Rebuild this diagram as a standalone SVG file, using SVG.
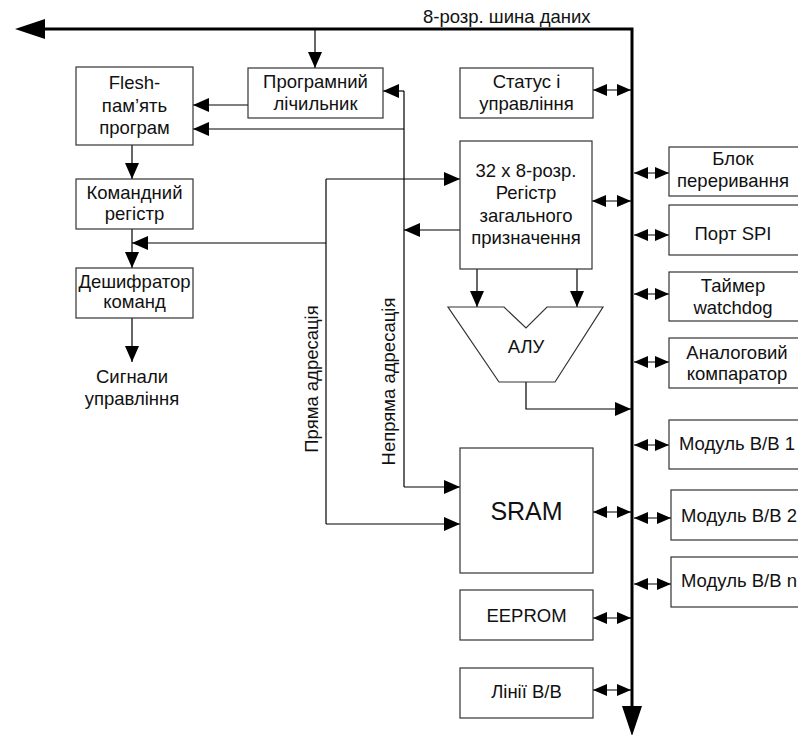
<svg xmlns="http://www.w3.org/2000/svg" width="798" height="735" viewBox="0 0 798 735">
<defs>
<style>
.box{fill:#fff;stroke:#333;stroke-width:1.2}
.t{font-family:"Liberation Sans",Arial,sans-serif;font-size:18.5px;fill:#111;text-anchor:middle}
.tl{font-family:"Liberation Sans",Arial,sans-serif;font-size:18.5px;fill:#111}
.c{fill:none;stroke:#000;stroke-width:1.2}
.a{marker-end:url(#arr)}
.d{marker-start:url(#dbl);marker-end:url(#dbl)}
.bus{fill:none;stroke:#000;stroke-width:3;marker-start:url(#big);marker-end:url(#big)}
</style>
<marker id="arr" viewBox="0 0 16 14" refX="16" refY="7" markerWidth="16" markerHeight="14" markerUnits="userSpaceOnUse" orient="auto"><path d="M0,0 L16,7 L0,14 z" fill="#000"/></marker>
<marker id="dbl" viewBox="0 0 14 12" refX="14" refY="6" markerWidth="14" markerHeight="12" markerUnits="userSpaceOnUse" orient="auto-start-reverse"><path d="M0,0 L14,6 L0,12 z" fill="#000"/></marker>
<marker id="big" viewBox="0 0 30 20" refX="1" refY="10" markerWidth="30" markerHeight="20" markerUnits="userSpaceOnUse" orient="auto-start-reverse"><path d="M0,0 L30,10 L0,20 z" fill="#000"/></marker>
</defs>

<g id="connectors">
<path class="bus" d="M44 29 H632 V707"/>
<path class="c a" d="M315 29 V68"/>
<path class="c a" d="M248 105 H193"/>
<path class="c" d="M404 91 V487"/>
<path class="c a" d="M404 91 H383"/>
<path class="c a" d="M404 129 H193"/>
<path class="c a" d="M404 487 H460"/>
<path class="c a" d="M460 230 H404"/>
<path class="c a" d="M132 145 V179"/>
<path class="c a" d="M132 229 V268"/>
<path class="c" d="M326 179 V524"/>
<path class="c a" d="M326 179 H460"/>
<path class="c a" d="M326 243 H132"/>
<path class="c a" d="M326 524 H460"/>
<path class="c a" d="M132 318 V362"/>
<path class="c a" d="M477 269 V307"/>
<path class="c a" d="M577 269 V307"/>
<path class="c a" d="M526 382 V409 H631"/>
<path class="c d" d="M593 90 H631"/>
<path class="c d" d="M592 201 H631"/>
<path class="c d" d="M593 512 H631"/>
<path class="c d" d="M593 618 H631"/>
<path class="c d" d="M593 690 H631"/>
<path class="c d" d="M634 173 H669"/>
<path class="c d" d="M634 235 H669"/>
<path class="c d" d="M634 294 H669"/>
<path class="c d" d="M634 362 H669"/>
<path class="c d" d="M634 445 H669"/>
<path class="c d" d="M634 518 H671"/>
<path class="c d" d="M634 584 H671"/>
</g>

<text class="tl" x="423" y="23">8-розр. шина даних</text>

<g id="flesh">
<rect class="box" x="76" y="67" width="117" height="78"/>
<text class="t" x="134.5" y="89">Flesh-</text>
<text class="t" x="134.5" y="112">пам’ять</text>
<text class="t" x="134.5" y="134">програм</text>
</g>
<g id="pc">
<rect class="box" x="248" y="68" width="135" height="50"/>
<text class="t" x="315.5" y="88">Програмний</text>
<text class="t" x="315.5" y="110">лічильник</text>
</g>
<g id="cmdreg">
<rect class="box" x="76" y="179" width="117" height="50"/>
<text class="t" x="134.5" y="199">Командний</text>
<text class="t" x="134.5" y="220">регістр</text>
</g>
<g id="decoder">
<rect class="box" x="76" y="268" width="117" height="50"/>
<text class="t" x="134.5" y="288">Дешифратор</text>
<text class="t" x="134.5" y="308">команд</text>
</g>
<g id="signals">
<text class="t" x="132" y="383">Сигнали</text>
<text class="t" x="132" y="405">управління</text>
</g>
<g id="labels">
<text class="t" transform="translate(318 379) rotate(-90)">Пряма адресація</text>
<text class="t" transform="translate(395 381.5) rotate(-90)">Непряма адресація</text>
</g>
<g id="status">
<rect class="box" x="460" y="68" width="133" height="50"/>
<text class="t" x="526.5" y="88">Статус і</text>
<text class="t" x="526.5" y="110">управління</text>
</g>
<g id="gpr">
<rect class="box" x="460" y="141" width="132" height="128"/>
<text class="t" x="526" y="177">32 х 8-розр.</text>
<text class="t" x="526" y="199">Регістр</text>
<text class="t" x="526" y="222">загального</text>
<text class="t" x="526" y="244">призначення</text>
</g>
<g id="alu">
<path class="box" d="M448 307 H504 L526 328 L547 307 H603 L555 382 H499 Z"/>
<text class="t" x="526" y="353">АЛУ</text>
</g>
<g id="sram">
<rect class="box" x="460" y="448" width="133" height="125"/>
<text class="t" x="526.5" y="520" style="font-size:25px">SRAM</text>
</g>
<g id="eeprom">
<rect class="box" x="460" y="590" width="133" height="50"/>
<text class="t" x="526.5" y="622">EEPROM</text>
</g>
<g id="io">
<rect class="box" x="460" y="668" width="133" height="50"/>
<text class="t" x="526.5" y="698">Лінії В/В</text>
</g>
<g id="irq">
<rect class="box" x="669" y="147" width="140" height="49"/>
<text class="t" x="733" y="165">Блок</text>
<text class="t" x="733" y="187">переривання</text>
</g>
<g id="spi">
<rect class="box" x="669" y="205" width="140" height="50"/>
<text class="t" x="733" y="240">Порт SPI</text>
</g>
<g id="wdt">
<rect class="box" x="669" y="272" width="140" height="49"/>
<text class="t" x="733" y="292">Таймер</text>
<text class="t" x="733" y="314">watchdog</text>
</g>
<g id="comp">
<rect class="box" x="669" y="338" width="140" height="50"/>
<text class="t" x="737" y="359">Аналоговий</text>
<text class="t" x="737" y="380">компаратор</text>
</g>
<g id="mod1">
<rect class="box" x="669" y="420" width="140" height="49"/>
<text class="tl" x="679" y="450">Модуль В/В 1</text>
</g>
<g id="mod2">
<rect class="box" x="671" y="490" width="140" height="50"/>
<text class="tl" x="681" y="522">Модуль В/В 2</text>
</g>
<g id="modn">
<rect class="box" x="671" y="557" width="140" height="50"/>
<text class="tl" x="681" y="587">Модуль В/В n</text>
</g>
</svg>
